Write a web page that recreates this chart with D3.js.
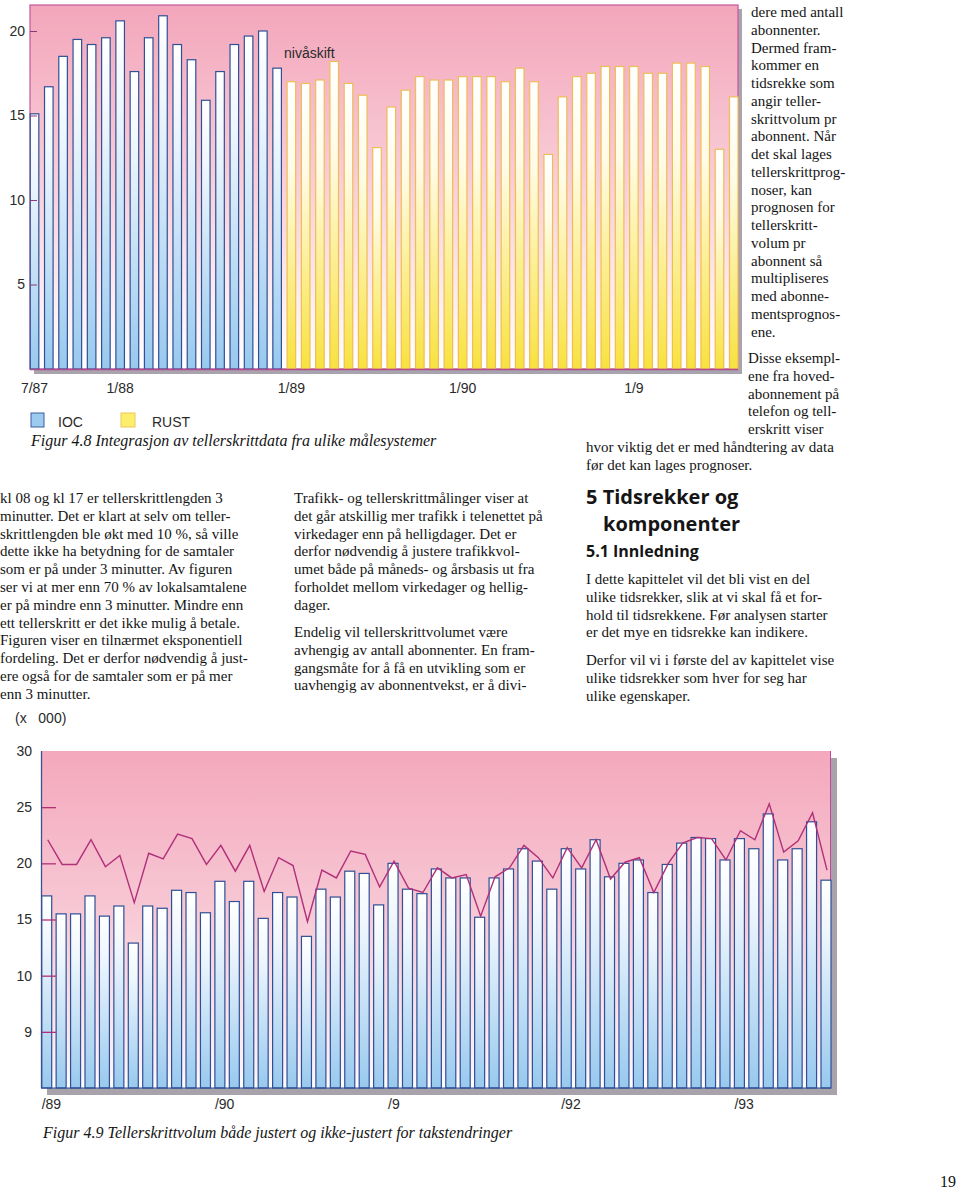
<!DOCTYPE html>
<html><head><meta charset="utf-8">
<script src="https://cdn.jsdelivr.net/npm/d3@7"></script>
<style>
html,body{margin:0;padding:0;background:#fff;}
svg{display:block;}
.serif{font-family:"Liberation Serif","Times New Roman",serif;font-size:15px;fill:#141414;}
.sans{font-family:"Liberation Sans",Arial,sans-serif;fill:#2a2a2a;}
.head{font-family:"Open Sans","Noto Sans",sans-serif;font-weight:bold;fill:#151515;}
</style></head>
<body>
<script>
// ---------- DATA ----------
const topIOC = [15.1,16.7,18.5,19.5,19.2,19.6,20.6,17.6,19.6,20.9,19.2,18.3,15.9,17.6,19.2,19.7,20.0,17.8];
const topRUST = [17.0,16.9,17.1,18.2,16.9,16.2,13.1,15.5,16.5,17.3,17.1,17.1,17.3,17.3,17.3,17.0,17.8,17.0,12.7,16.1,17.3,17.5,17.9,17.9,17.9,17.5,17.5,18.1,18.1,17.9,13.0,16.1];
const topTickValues = [5,10,15,20];
const topXLabels = [{i:0,t:"7/87"},{i:6,t:"1/88"},{i:18,t:"1/89"},{i:30,t:"1/90"},{i:42,t:"1/9"}];
const topLegend = ["IOC","RUST"];

const botBars = [17.1,15.5,15.5,17.1,15.3,16.2,12.9,16.2,16.0,17.6,17.4,15.6,18.4,16.6,18.4,15.1,17.4,17.0,13.5,17.7,17.0,19.3,19.1,16.3,20.0,17.7,17.3,19.5,18.7,18.7,15.2,18.7,19.5,21.3,20.2,17.7,21.3,19.5,22.1,18.8,20.0,20.3,17.4,19.9,21.8,22.3,22.2,20.3,22.2,21.3,24.4,20.3,21.3,23.7,18.5];
const botLine = [22.1,19.9,19.9,22.1,19.7,20.7,16.5,20.9,20.4,22.6,22.2,19.9,21.6,19.3,21.6,17.5,20.5,19.8,14.8,19.4,18.7,21.1,20.8,17.9,20.2,17.8,17.4,19.6,18.7,19.0,15.3,18.8,19.6,21.6,20.5,18.7,21.4,19.6,22.1,18.6,20.1,20.5,17.4,20.0,21.8,22.3,22.2,20.3,22.9,22.1,25.3,21.0,22.0,24.5,19.4];
const botTickValues = [5,10,15,20,25,30];
const botTickLabels = ["9","10","15","20","25","30"];
const botXLabels = [{i:0,t:"/89"},{i:12,t:"/90"},{i:24,t:"/9"},{i:36,t:"/92"},{i:48,t:"/93"}];

// ---------- SVG ----------
const svg = d3.select("body").append("svg").attr("width",960).attr("height",1189);
svg.append("rect").attr("width",960).attr("height",1189).attr("fill","#fff");
const defs = svg.append("defs");
function grad(id, stops){
  const g = defs.append("linearGradient").attr("id",id).attr("x1",0).attr("y1",0).attr("x2",0).attr("y2",1);
  stops.forEach(s=>g.append("stop").attr("offset",s[0]).attr("stop-color",s[1]));
}
grad("bgPink",[[0,"#f3a6bb"],[0.45,"#f8cbd6"],[0.95,"#fffafb"],[1,"#ffffff"]]);
grad("bgPink2",[[0,"#f4a8bc"],[0.45,"#f7c6d3"],[0.95,"#fdf2f5"],[1,"#ffffff"]]);
grad("blueBar",[[0,"#ffffff"],[0.25,"#eef6fd"],[1,"#98c9ee"]]);
grad("yellowBar",[[0,"#ffffff"],[0.3,"#fffbe6"],[1,"#f8e23f"]]);

// ---------- TOP CHART ----------
const topAll = topIOC.map(v=>({v,s:"IOC"})).concat(topRUST.map(v=>({v,s:"RUST"})));
const tx = d3.scaleBand().domain(d3.range(topAll.length)).range([27.4,740.9]).paddingInner(0.4).paddingOuter(0.2);
const ty = d3.scaleLinear().domain([0,20]).range([369,31]);
const tTop = 5, tL = 30, tR = 738;

svg.append("rect").attr("x",tL+4).attr("y",tTop+4).attr("width",tR-tL).attr("height",ty(0)-tTop+1).attr("fill","#a9a3ad");
svg.append("rect").attr("x",tL).attr("y",tTop).attr("width",tR-tL).attr("height",ty(0)-tTop)
  .attr("fill","url(#bgPink)").attr("stroke","#c2589a").attr("stroke-width",1.2);

svg.append("g").selectAll("rect").data(topAll).join("rect")
  .attr("x",(d,i)=>tx(i)).attr("width",tx.bandwidth())
  .attr("y",d=>ty(d.v)).attr("height",d=>ty(0)-ty(d.v))
  .attr("fill",d=>d.s==="IOC"?"url(#blueBar)":"url(#yellowBar)")
  .attr("stroke",d=>d.s==="IOC"?"#2f5096":"#efbd55").attr("stroke-width",1.2);

svg.append("line").attr("x1",tL).attr("x2",tR).attr("y1",ty(0)+0.5).attr("y2",ty(0)+0.5).attr("stroke","#b04a8c").attr("stroke-width",1.5);

const tAxis = svg.append("g").attr("transform",`translate(${tL},0)`)
  .call(d3.axisLeft(ty).tickValues(topTickValues).tickSize(-7).tickPadding(5).tickFormat(d3.format("d")));
tAxis.select(".domain").remove();
tAxis.selectAll(".tick line").attr("stroke","#8a3a78");
tAxis.selectAll("text").attr("class","sans").style("font-size","14px").attr("fill","#2a2a2a");

svg.append("g").selectAll("text").data(topXLabels).join("text").attr("class","sans")
  .attr("x",d=>tx(d.i)+tx.bandwidth()/2).attr("y",393).attr("text-anchor","middle")
  .style("font-size","14px").text(d=>d.t);

svg.append("text").attr("class","sans").attr("x",284).attr("y",58).style("font-size","14px").attr("fill","#222").text("nivåskift");

// legend
const leg = svg.append("g");
leg.append("rect").attr("x",31).attr("y",413).attr("width",13).attr("height",14).attr("fill","#9dcbef").attr("stroke","#3a5d9e");
leg.append("text").attr("class","sans").attr("x",58).attr("y",427).style("font-size","14px").attr("fill","#444").text(topLegend[0]);
leg.append("rect").attr("x",121).attr("y",413).attr("width",14).attr("height",14).attr("fill","#fbee6a").attr("stroke","#efc65c");
leg.append("text").attr("class","sans").attr("x",152).attr("y",427).style("font-size","14px").attr("fill","#444").text(topLegend[1]);

svg.append("text").attr("class","serif").attr("x",31).attr("y",446).style("font-style","italic").style("font-size","16px").text("Figur 4.8 Integrasjon av tellerskrittdata fra ulike målesystemer");

// ---------- BOTTOM CHART ----------
const bx = d3.scaleBand().domain(d3.range(botBars.length)).range([41.7,831]).paddingInner(0.307).paddingOuter(0);
const by = d3.scaleLinear().domain([0,30]).range([1088,751]);
const bL = 41, bR = 831;

svg.append("rect").attr("x",bL+6).attr("y",by(30)+7).attr("width",bR-bL).attr("height",by(0)-by(30)).attr("fill","#a8a3ab");
svg.append("rect").attr("x",bL).attr("y",by(30)).attr("width",bR-bL).attr("height",by(0)-by(30)).attr("fill","url(#bgPink2)");
svg.append("line").attr("x1",bR-0.5).attr("x2",bR-0.5).attr("y1",by(30)).attr("y2",by(0)).attr("stroke","#c0489a").attr("stroke-width",1);

svg.append("g").selectAll("rect").data(botBars).join("rect")
  .attr("x",(d,i)=>bx(i)).attr("width",bx.bandwidth())
  .attr("y",d=>by(d)).attr("height",d=>by(0)-by(d))
  .attr("fill","url(#blueBar)").attr("stroke","#2f4f96").attr("stroke-width",1.2);

const bAxis = svg.append("g").attr("transform",`translate(${bL},0)`)
  .call(d3.axisLeft(by).tickValues(botTickValues).tickSize(-15).tickPadding(9).tickFormat((d,i)=>botTickLabels[i]));
bAxis.select(".domain").remove();
bAxis.selectAll(".tick line").attr("stroke","#b0307a").attr("stroke-width",1.3);
bAxis.selectAll(".tick").filter(d=>d===30).select("line").remove();
bAxis.selectAll("text").attr("class","sans").style("font-size","14px").attr("fill","#2a2a2a");

svg.append("line").attr("x1",bL+0.5).attr("x2",bL+0.5).attr("y1",by(30)).attr("y2",by(0)).attr("stroke","#3c4f8f").attr("stroke-width",1.3);
svg.append("line").attr("x1",bL).attr("x2",bR).attr("y1",by(0)).attr("y2",by(0)).attr("stroke","#2f4f96").attr("stroke-width",1.2);

const line = d3.line().x((d,i)=>bx(i)+bx.bandwidth()/2+1).y(d=>by(d));
svg.append("path").datum(botLine).attr("d",line).attr("fill","none").attr("stroke","#b0307a").attr("stroke-width",1.4);

svg.append("g").selectAll("text").data(botXLabels).join("text").attr("class","sans")
  .attr("x",d=>bx(d.i)).attr("y",1109).style("font-size","14px").text(d=>d.t);

svg.append("text").attr("class","sans").attr("x",15).attr("y",723).style("font-size","14px").attr("fill","#333").style("white-space","pre").text("(x   000)");
svg.append("text").attr("class","serif").attr("x",43).attr("y",1138).style("font-style","italic").style("font-size","16px").text("Figur 4.9 Tellerskrittvolum både justert og ikke-justert for takstendringer");

// ---------- BODY TEXT ----------
function block(x, y0, lh, lines){
  const g = svg.append("g");
  lines.forEach((t,i)=>g.append("text").attr("class","serif").attr("x",x).attr("y",y0+i*lh).text(t));
}
block(751,17,17.75,["dere med antall","abonnenter.","Dermed fram-","kommer en","tidsrekke som","angir teller-","skrittvolum pr","abonnent. Når","det skal lages","tellerskrittprog-","noser, kan","prognosen for","tellerskritt-","volum pr","abonnent så","multipliseres","med abonne-","mentsprognos-","ene."]);
block(748,363,17.75,["Disse eksempl-","ene fra hoved-","abonnement på","telefon og tell-","erskritt viser"]);
block(586,452,17.75,["hvor viktig det er med håndtering av data","før det kan lages prognoser."]);

block(0,503,17.8,["kl 08 og kl 17 er tellerskrittlengden 3","minutter. Det er klart at selv om teller-","skrittlengden ble økt med 10 %, så ville","dette ikke ha betydning for de samtaler","som er på under 3 minutter. Av figuren","ser vi at mer enn 70 % av lokalsamtalene","er på mindre enn 3 minutter. Mindre enn","ett tellerskritt er det ikke mulig å betale.","Figuren viser en tilnærmet eksponentiell","fordeling. Det er derfor nødvendig å just-","ere også for de samtaler som er på mer","enn 3 minutter."]);
block(294,503,17.8,["Trafikk- og tellerskrittmålinger viser at","det går atskillig mer trafikk i telenettet på","virkedager enn på helligdager. Det er","derfor nødvendig å justere trafikkvol-","umet både på måneds- og årsbasis ut fra","forholdet mellom virkedager og hellig-","dager."]);
block(294,637,17.8,["Endelig vil tellerskrittvolumet være","avhengig av antall abonnenter. En fram-","gangsmåte for å få en utvikling som er","uavhengig av abonnentvekst, er å divi-"]);

svg.append("text").attr("class","head").attr("x",586).attr("y",504).style("font-size","20px").text("5 Tidsrekker og");
svg.append("text").attr("class","head").attr("x",603).attr("y",531).style("font-size","20px").text("komponenter");
svg.append("text").attr("class","head").attr("x",586).attr("y",557).style("font-size","16px").text("5.1 Innledning");
block(586,584,17.8,["I dette kapittelet vil det bli vist en del","ulike tidsrekker, slik at vi skal få et for-","hold til tidsrekkene. Før analysen starter","er det mye en tidsrekke kan indikere."]);
block(586,665,17.8,["Derfor vil vi i første del av kapittelet vise","ulike tidsrekker som hver for seg har","ulike egenskaper."]);

svg.append("text").attr("class","serif").attr("x",940).attr("y",1187).style("font-size","16px").text("19");
</script>
</body></html>
